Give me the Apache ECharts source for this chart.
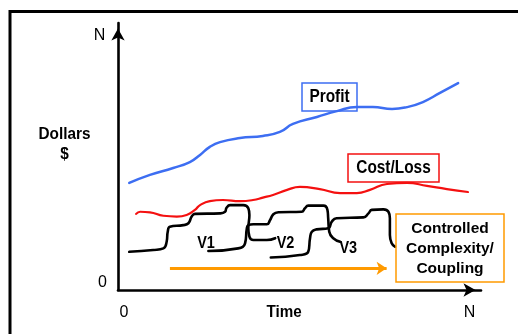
<!DOCTYPE html>
<html>
<head>
<meta charset="utf-8">
<script src="https://cdn.jsdelivr.net/npm/echarts@6/dist/echarts.min.js"></script>
<style>
  html, body { margin: 0; padding: 0; background: #ffffff; }
  #chart { width: 518px; height: 334px; }
</style>
</head>
<body>
<div id="chart"></div>
<script>
// Time runs 0..N on x, dollars 0..N on y (both scaled 0..100)
const profitCurve = [
  [3.1, 40.1], [8.8, 43.1], [15.2, 45.7], [19.8, 47.9], [22.6, 50.6],
  [25.3, 53.6], [28.1, 55.4], [33.6, 56.9], [39.9, 57.7], [44.6, 59.2],
  [48.2, 62.2], [54.8, 64.8], [60.3, 67.0], [65.8, 68.5], [70.2, 68.5],
  [75.5, 67.8], [79.6, 68.5], [84.0, 70.4], [88.7, 73.8], [93.7, 77.5]
];

const costLossCurve = [
  [5.0, 28.5], [6.1, 29.3], [8.8, 29.1], [12.5, 27.8], [16.2, 27.5],
  [18.9, 28.1], [21.2, 30.0], [22.6, 31.8], [25.3, 33.3], [28.9, 33.7],
  [33.6, 33.3], [37.2, 33.7], [39.9, 34.6], [42.7, 35.6], [46.6, 37.5],
  [50.1, 38.6], [55.6, 37.8], [61.2, 36.3], [65.8, 36.3], [69.4, 37.5],
  [74.1, 39.7], [79.6, 40.1], [85.1, 39.0], [90.6, 37.8], [96.4, 36.7]
];

// Stepwise complexity of successive versions
const versionOne = [
  [3.1, 14.3], [9.7, 15.0], [12.5, 15.6], [13.4, 18.1], [13.7, 21.8],
  [14.3, 23.7], [18.0, 24.3], [19.4, 25.0], [20.3, 27.5], [21.2, 28.5],
  [28.1, 28.7], [29.5, 29.3], [29.9, 30.8], [30.9, 31.8], [34.5, 31.8],
  [35.9, 30.6], [36.2, 28.1], [35.9, 23.1], [36.2, 20.0], [37.3, 18.7],
  [41.0, 18.7], [43.3, 19.4]
];

const versionTwo = [
  [24.9, 14.6], [33.1, 15.6], [35.0, 17.5], [35.5, 23.1], [35.9, 24.3],
  [37.3, 24.6], [41.0, 24.6], [41.9, 26.2], [42.8, 28.4], [44.2, 29.1],
  [50.6, 29.3], [51.5, 30.6], [52.4, 31.6], [56.6, 31.6], [57.7, 30.0],
  [57.9, 26.9], [58.2, 21.8], [59.3, 19.4], [61.2, 18.1]
];

const versionThree = [
  [42.1, 12.2], [50.1, 13.1], [52.4, 14.3], [52.9, 19.4], [53.4, 21.8],
  [54.7, 22.7], [57.9, 23.1], [58.9, 25.6], [60.2, 26.9], [67.6, 27.2],
  [69.0, 28.7], [69.9, 30.0], [73.1, 30.2], [74.5, 29.3], [74.9, 26.9],
  [74.9, 20.6], [75.4, 17.5], [76.3, 16.2]
];

const controlArrow = [[14.3, 8.1], [74.0, 8.1]];

const axisEndLabels = { origin: '0', end: 'N' };
const axisNames = { x: 'Time', y: 'Dollars\n$' };
const versionLabels = ['V1', 'V2', 'V3'];
const boxLabels = { profit: 'Profit', cost: 'Cost/Loss', control: 'Controlled\nComplexity/\nCoupling' };

const FONT = '"Liberation Sans", Arial, Helvetica, sans-serif';
const BLUE = '#3d6ef2';
const RED = '#f41010';
const ORANGE = '#ff9a00';

const chart = echarts.init(document.getElementById('chart'), null, { renderer: 'canvas' });

const axisCommon = {
  type: 'value',
  min: 0,
  max: 100,
  splitLine: { show: false },
  axisTick: { show: false },
  axisLabel: { show: false },
  axisLine: {
    show: true,
    symbol: ['none', 'arrow'],
    symbolSize: [10, 12],
    symbolOffset: [0, -5.5],
    lineStyle: { color: '#000', width: 2.6 }
  }
};

function txt(x, y, text, font, opts) {
  return Object.assign({
    type: 'text',
    x: x,
    y: y,
    z: 100,
    style: {
      x: 0, y: 0,
      text: text,
      font: font,
      fill: '#000',
      align: 'center',
      verticalAlign: 'middle',
      textAlign: 'center',
      textVerticalAlign: 'middle',
      lineHeight: (opts && opts.lineHeight) || undefined
    }
  }, opts && opts.el);
}

function box(x, y, w, h, color) {
  return {
    type: 'rect',
    z: 90,
    shape: { x: x, y: y, width: w, height: h },
    style: { fill: 'none', stroke: color, lineWidth: 1.5 }
  };
}

function curve(name, data, color, width) {
  return {
    name: name,
    type: 'line',
    data: data,
    showSymbol: false,
    smooth: 0.5,
    silent: true,
    lineStyle: { color: color, width: width, cap: 'round', join: 'round' },
    itemStyle: { color: color }
  };
}

chart.setOption({
  animation: false,
  backgroundColor: '#ffffff',
  grid: { left: 118, right: 37, top: 23, bottom: 44 },
  xAxis: axisCommon,
  yAxis: axisCommon,
  series: [
    curve('Profit', profitCurve, BLUE, 2.5),
    curve('Cost/Loss', costLossCurve, RED, 2.2),
    curve('V1', versionOne, '#000', 2.6),
    curve('V2', versionTwo, '#000', 2.6),
    curve('V3', versionThree, '#000', 2.6),
    {
      name: 'Controlled Complexity/Coupling',
      type: 'line',
      data: [],
      silent: true,
      markLine: {
        silent: true,
        symbol: ['none', 'arrow'],
        symbolSize: [10, 10],
        label: { show: false },
        lineStyle: { color: ORANGE, width: 3, type: 'solid' },
        emphasis: { disabled: true },
        data: [[{ coord: controlArrow[0] }, { coord: controlArrow[1] }]]
      }
    }
  ],
  graphic: [
    // frame around the figure
    {
      type: 'rect',
      z: 80,
      shape: { x: 10, y: 11.5, width: 620, height: 420 },
      style: { fill: 'none', stroke: '#000', lineWidth: 3 }
    },
    // axis end labels
    txt(99.5, 36, axisEndLabels.end, '16px ' + FONT),
    txt(102.5, 282.5, axisEndLabels.origin, '16px ' + FONT),
    txt(124, 312.5, axisEndLabels.origin, '16px ' + FONT),
    txt(469.5, 312.5, axisEndLabels.end, '16px ' + FONT),
    // axis names
    txt(284, 312.5, axisNames.x, 'bold 16px ' + FONT, { el: { scaleX: 0.95 } }),
    txt(64.5, 144.5, axisNames.y, 'bold 16.5px ' + FONT, { lineHeight: 20, el: { scaleX: 0.93 } }),
    // labelled boxes
    box(302, 83, 55, 28, BLUE),
    txt(329.5, 97.5, boxLabels.profit, 'bold 17.5px ' + FONT, { el: { scaleX: 0.88 } }),
    box(348, 154, 91, 28, RED),
    txt(393.5, 168.5, boxLabels.cost, 'bold 17.5px ' + FONT, { el: { scaleX: 0.88 } }),
    box(396, 214, 108, 68, ORANGE),
    txt(450, 248.5, boxLabels.control, 'bold 15.5px ' + FONT, { lineHeight: 20 }),
    // version labels
    txt(206, 243.5, versionLabels[0], 'bold 17px ' + FONT, { el: { scaleX: 0.85 } }),
    txt(285.5, 243.5, versionLabels[1], 'bold 17px ' + FONT, { el: { scaleX: 0.85 } }),
    txt(348.3, 248.5, versionLabels[2], 'bold 17px ' + FONT, { el: { scaleX: 0.85 } })
  ]
});
</script>
</body>
</html>
